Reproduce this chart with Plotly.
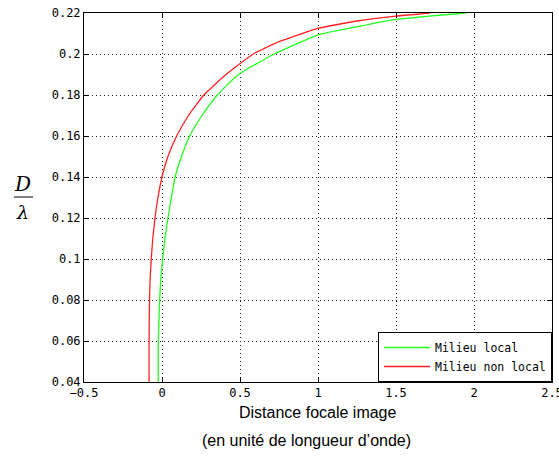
import plotly.graph_objects as go

# Milieu local (green)
local_y = [0.04, 0.06, 0.08, 0.09, 0.10, 0.11, 0.12, 0.13, 0.14, 0.15, 0.16, 0.17, 0.18, 0.19, 0.20, 0.2093, 0.2133, 0.2169, 0.22]
local_x = [-0.024, -0.024, -0.015, -0.008, 0.004, 0.019, 0.038, 0.060, 0.084, 0.125, 0.177, 0.257, 0.355, 0.49, 0.72, 1.0, 1.25, 1.5, 1.95]

# Milieu non local (red)
nonlocal_y = [0.04, 0.06, 0.08, 0.09, 0.10, 0.11, 0.12, 0.13, 0.14, 0.15, 0.16, 0.17, 0.18, 0.19, 0.20, 0.206, 0.2125, 0.2161, 0.2185, 0.22]
nonlocal_x = [-0.083, -0.083, -0.080, -0.076, -0.069, -0.059, -0.045, -0.026, 0.0, 0.038, 0.094, 0.170, 0.268, 0.41, 0.585, 0.75, 1.0, 1.25, 1.5, 1.72]

x_ticks = [-0.5, 0, 0.5, 1, 1.5, 2, 2.5]
x_ticklabels = ["\u22120.5", "0", "0.5", "1", "1.5", "2", "2.5"]
y_ticks = [0.04, 0.06, 0.08, 0.1, 0.12, 0.14, 0.16, 0.18, 0.2, 0.22]
y_ticklabels = ["0.04", "0.06", "0.08", "0.1", "0.12", "0.14", "0.16", "0.18", "0.2", "0.22"]

mono = "DejaVu Sans Mono"
sans = "Liberation Sans"

W, H = 559, 461
plot_l, plot_r, plot_t, plot_b = 84, 552, 13, 382
pw, ph = plot_r - plot_l, plot_b - plot_t

fig = go.Figure()
fig.add_trace(go.Scatter(x=local_x, y=local_y, mode="lines", name="Milieu local",
                         line=dict(color="#22ff22", width=1.3, shape="spline", smoothing=0.4)))
fig.add_trace(go.Scatter(x=nonlocal_x, y=nonlocal_y, mode="lines", name="Milieu non local",
                         line=dict(color="#ff2222", width=1.3, shape="spline", smoothing=0.4)))

axis_common = dict(showline=True, linecolor="black", linewidth=1, mirror="ticks",
                   ticks="inside", ticklen=5, tickcolor="black",
                   showgrid=True, gridcolor="#222222", gridwidth=1, griddash="1px,3px",
                   zeroline=False, ticklabeloverflow="allow", automargin=False,
                   tickfont=dict(family=mono, size=12, color="black"))

fig.update_xaxes(range=[-0.5, 2.5], tickvals=x_ticks, ticktext=x_ticklabels, **axis_common)
fig.update_yaxes(range=[0.04, 0.22], tickvals=y_ticks, ticktext=y_ticklabels, **axis_common)


def px_to_paper(px, py):
    return (px - plot_l) / pw, (plot_b - py) / ph


annotations = []
for text, cx, cy, fam, size in [
    ("Distance focale image", 318, 412, sans, 16),
    ("(en unité de longueur d\u2019onde)", 306, 440, sans, 16),
    ("<i>D</i>", 23, 184, "DejaVu Serif", 20),
    ("<i>\u03bb</i>", 23, 212, "DejaVu Serif", 19),
]:
    ax, ay = px_to_paper(cx, cy)
    annotations.append(dict(text=text, x=ax, y=ay, xref="paper", yref="paper",
                            xanchor="center", yanchor="middle", showarrow=False,
                            font=dict(family=fam, size=size, color="black")))

fig.update_layout(
    width=W, height=H,
    margin=dict(l=plot_l, r=W - plot_r, t=plot_t, b=H - plot_b, autoexpand=False),
    paper_bgcolor="white", plot_bgcolor="white",
    showlegend=True,
    legend=dict(x=1, y=0, xanchor="right", yanchor="bottom",
                bordercolor="black", borderwidth=1, bgcolor="white",
                font=dict(family=mono, size=11.5, color="black"),
                tracegroupgap=0, itemwidth=46),
    annotations=annotations,
)

lx0, ly = px_to_paper(14, 197)
lx1, _ = px_to_paper(33, 197)
fig.add_shape(type="line", xref="paper", yref="paper",
              x0=lx0, x1=lx1, y0=ly, y1=ly,
              line=dict(color="black", width=1))

fig.write_html(
    "out.html",
    config={"displayModeBar": False},
    post_script="document.body.style.margin='0';document.body.style.overflow='hidden';",
)
